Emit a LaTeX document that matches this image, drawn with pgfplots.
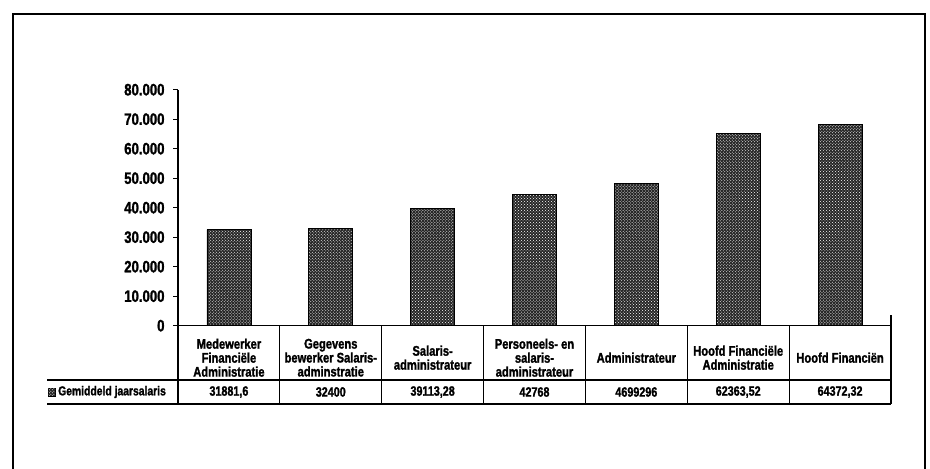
\documentclass[border=0pt]{standalone}
\usepackage{fontspec}
\setmainfont{Liberation Sans}[FakeStretch=0.8, BoldFeatures={FakeBold=1.5}]
\usepackage{pgfplots}
\pgfplotsset{compat=1.18}
\usetikzlibrary{patterns}

% bar heights as drawn in the chart
\pgfplotstableread{
x val
0 32600
1 33000
2 39800
3 44500
4 48300
5 65200
6 68300
}\bars

\begin{document}
\begin{tikzpicture}[x=1bp, y=1bp, font=\bfseries]
\useasboundingbox (0,0) rectangle (930,469);
% outer frame
\draw[line width=1.2bp] (13,-2) -- (13,455) -- (925,455) -- (925,-2);

\begin{axis}[
  at={(178bp,143.3bp)}, anchor=south west,
  scale only axis, width=713bp, height=236bp,
  xmin=-0.5, xmax=6.5, ymin=0, ymax=80000,
  axis x line*=bottom, axis y line*=left,
  axis line style={-, line width=1.2bp},
  ytick={0,10000,...,80000},
  scaled y ticks=false,
  yticklabel style={font=\bfseries\fontsize{16.5}{17}\selectfont, xshift=-5bp,
    /pgf/number format/.cd, fixed, 1000 sep={.}, assume math mode=true},
  tick align=outside, major tick length=5bp,
  y tick style={line width=1bp, black},
  xtick={0,...,6},
  xticklabels={{Medewerker\\Financiële\\Administratie},
    {Gegevens\\bewerker Salaris-\\adminstratie},
    {Salaris-\\administrateur},
    {Personeels- en\\salaris-\\administrateur},
    {Administrateur},
    {Hoofd Financiële\\Administratie},
    {Hoofd Financiën}},
  x tick style={draw=none},
  xticklabel style={anchor=center, yshift=-27bp, align=center,
    font=\bfseries\fontsize{14}{14}\selectfont},
  ybar, bar width=44bp,
  clip=false,
]
\addplot[draw=black, line width=0.6bp, fill=black!85,
  postaction={pattern=crosshatch dots, pattern color=white}]
  table[x=x, y=val]{\bars};
\end{axis}

% data table below the axis
\foreach \k in {0,...,7}{
  \draw[line width=1.2bp] ({178+\k*101.857},143.3) -- ({178+\k*101.857},65);
}
\draw[line width=1.2bp] (891,143.3) -- (891,154);
\draw[line width=1.2bp] (47,89) -- (891,89);
\draw[line width=1.2bp] (47,65) -- (891,65);

\foreach \i/\v in {0/{31881,6}, 1/{32400}, 2/{39113,28}, 3/{42768},
                   4/{4699296}, 5/{62363,52}, 6/{64372,32}}{
  \node[font=\bfseries\fontsize{13.5}{14}\selectfont, inner sep=0pt]
    at ({178+(\i+0.5)*101.857},77) {\v};
}

% legend key
\draw[line width=0.6bp, fill=black!85,
  postaction={pattern=crosshatch dots, pattern color=white}]
  (48,73) rectangle (55,81);
\node[anchor=west, inner sep=0pt, font=\bfseries\fontsize{13}{14}\selectfont]
  at (58,77) {Gemiddeld jaarsalaris};
\end{tikzpicture}
\end{document}
